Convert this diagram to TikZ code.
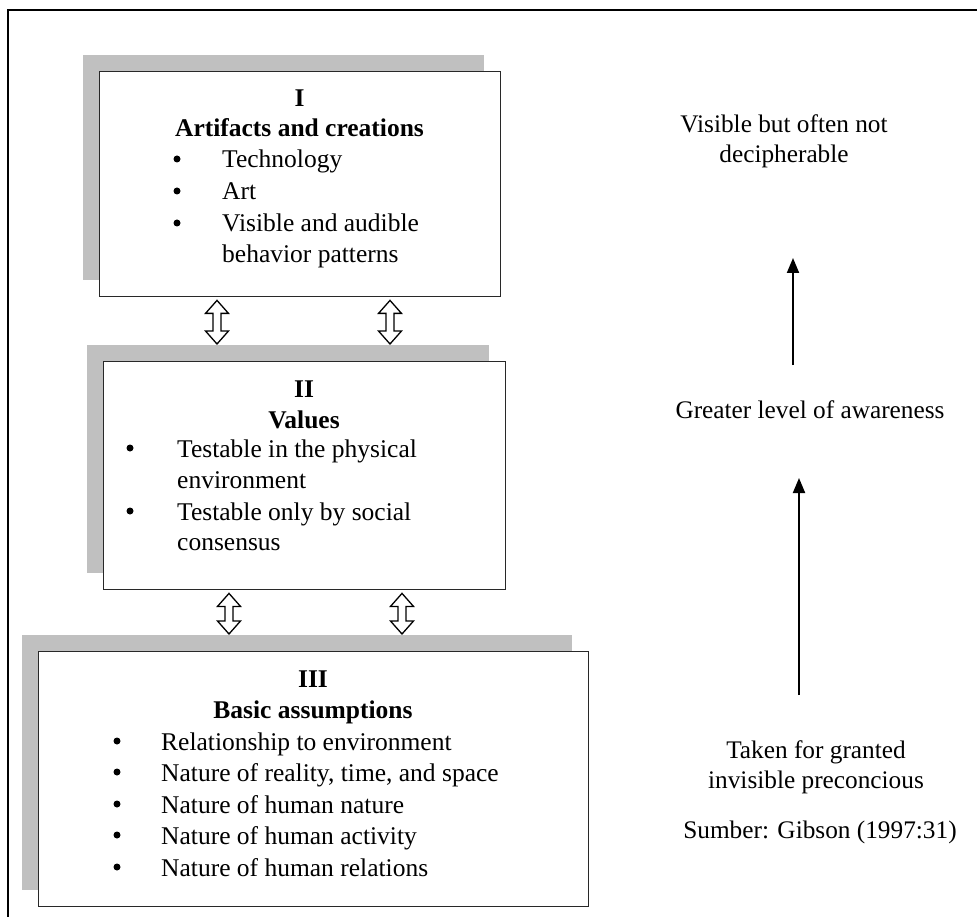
\documentclass[tikz,border=0pt]{standalone}
\usepackage{fontspec}
\setmainfont{Liberation Serif}
\usetikzlibrary{arrows.meta,calc}
\definecolor{shadowgray}{RGB}{192,192,192}
\definecolor{boxline}{RGB}{40,40,40}
\newcommand\dblarrowud[2]{% #1 top coordinate, #2 bottom coordinate
  \draw[udarrowline] let \p1=(#1), \p2=(#2) in
    (\x1,\y1) -- ++(11.5pt,-13pt) -- ++(-7.5pt,0pt) -- (\x2+4pt,\y2+13pt) -- ++(7.5pt,0pt)
    -- (\x2,\y2) -- ++(-11.5pt,13pt) -- ++(7.5pt,0pt) -- (\x1-4pt,\y1-13pt) -- ++(-7.5pt,0pt) -- cycle;}
\begin{document}
\begin{tikzpicture}[x=1pt,y=-1pt,
  shadowbox/.style={fill=shadowgray, draw=none, inner sep=0pt, anchor=north west},
  mainbox/.style={fill=white, draw=boxline, line width=1.4pt, inner sep=0pt, anchor=north west},
  boxtext/.style={font=\fontsize{25.5}{31}\selectfont, inner sep=0pt, anchor=base west},
  boxtitle/.style={font=\fontsize{25.5}{31}\selectfont\bfseries, inner sep=0pt, anchor=base},
  bul/.style={circle, fill=black, draw=none, inner sep=0pt, minimum size=7pt},
  sidetext/.style={font=\fontsize{25.3}{30}\selectfont, inner sep=0pt, anchor=base},
  udarrowline/.style={draw=black, fill=white, line width=1.3pt, line join=miter},
  uparrow/.style={draw=black, line width=2pt, -{Triangle[length=15pt,width=12pt]}}]
\useasboundingbox (0,0) rectangle (977,917);
% outer frame
\coordinate (frameTR) at (980,10);
\coordinate (frameTL) at (8,10);
\coordinate (frameBL) at (8,920);
\draw[line width=2.5pt] (frameTR) -- (frameTL) -- (frameBL);

% Box I
\node[shadowbox, minimum width=401pt, minimum height=225pt] (s1) at (83,55) {};
\node[mainbox, minimum width=401pt, minimum height=225pt] (b1) at (99,71) {};
\node[boxtitle] (t1a) at (299.5,107) {I};
\node[boxtitle] (t1b) at (299.5,137) {Artifacts and creations};
\node[bul] (u1a) at (177,159) {};
\node[boxtext] (l1a) at (222,168) {Technology};
\node[bul] (u1b) at (177,191) {};
\node[boxtext] (l1b) at (222,200) {Art};
\node[bul] (u1c) at (177,223) {};
\node[boxtext] (l1c) at (222,232) {Visible and audible};
\node[boxtext] (l1d) at (222,263) {behavior patterns};

% Box II
\node[shadowbox, minimum width=402pt, minimum height=228pt] (s2) at (87,345) {};
\node[mainbox, minimum width=402pt, minimum height=228pt] (b2) at (103,361) {};
\node[boxtitle] (t2a) at (304,397) {II};
\node[boxtitle] (t2b) at (304,428) {Values};
\node[bul] (u2a) at (130,448) {};
\node[boxtext] (l2a) at (177,457) {Testable in the physical};
\node[boxtext] (l2b) at (177,488) {environment};
\node[bul] (u2b) at (130,511) {};
\node[boxtext] (l2c) at (177,520) {Testable only by social};
\node[boxtext] (l2d) at (177,550) {consensus};

% Box III
\node[shadowbox, minimum width=550pt, minimum height=255pt] (s3) at (22,635) {};
\node[mainbox, minimum width=550pt, minimum height=255pt] (b3) at (38,651) {};
\node[boxtitle] (t3a) at (313,687) {III};
\node[boxtitle] (t3b) at (313,718) {Basic assumptions};
\node[bul] (u3a) at (117,741) {};
\node[boxtext] (l3a) at (161,750) {Relationship to environment};
\node[bul] (u3b) at (117,772) {};
\node[boxtext] (l3b) at (161,781) {Nature of reality, time, and space};
\node[bul] (u3c) at (117,804) {};
\node[boxtext] (l3c) at (161,813) {Nature of human nature};
\node[bul] (u3d) at (117,835) {};
\node[boxtext] (l3d) at (161,844) {Nature of human activity};
\node[bul] (u3e) at (117,867) {};
\node[boxtext] (l3e) at (161,876) {Nature of human relations};

% double arrows between boxes
\coordinate (a1t) at ($(b1.south west)+(118,3)$);
\coordinate (a1b) at ($(s2.north west)+(130,-1)$);
\coordinate (a2t) at ($(b1.south west)+(291,3)$);
\coordinate (a2b) at ($(s2.north west)+(303,-1)$);
\coordinate (a3t) at ($(b2.south west)+(126,3)$);
\coordinate (a3b) at ($(s3.north west)+(207,-1)$);
\coordinate (a4t) at ($(b2.south west)+(299,3)$);
\coordinate (a4b) at ($(s3.north west)+(380,-1)$);
\dblarrowud{a1t}{a1b}
\dblarrowud{a2t}{a2b}
\dblarrowud{a3t}{a3b}
\dblarrowud{a4t}{a4b}

% right column
\node[sidetext] (r1a) at (784,133) {Visible but often not};
\node[sidetext] (r1b) at (784,163) {decipherable};
\node[sidetext] (r2) at (810,418) {Greater level of awareness};
\node[sidetext] (r3a) at (816,758) {Taken for granted};
\node[sidetext] (r3b) at (816,788) {invisible preconcious};
\node[sidetext] (r4) at (820,838) {Sumber: Gibson (1997:31)};
\coordinate (p1b) at (793,365);
\coordinate (p1t) at (793,258);
\coordinate (p2b) at (799,695);
\coordinate (p2t) at (799,478);
\draw[uparrow] (p1b) -- (p1t);
\draw[uparrow] (p2b) -- (p2t);
\end{tikzpicture}
\end{document}
